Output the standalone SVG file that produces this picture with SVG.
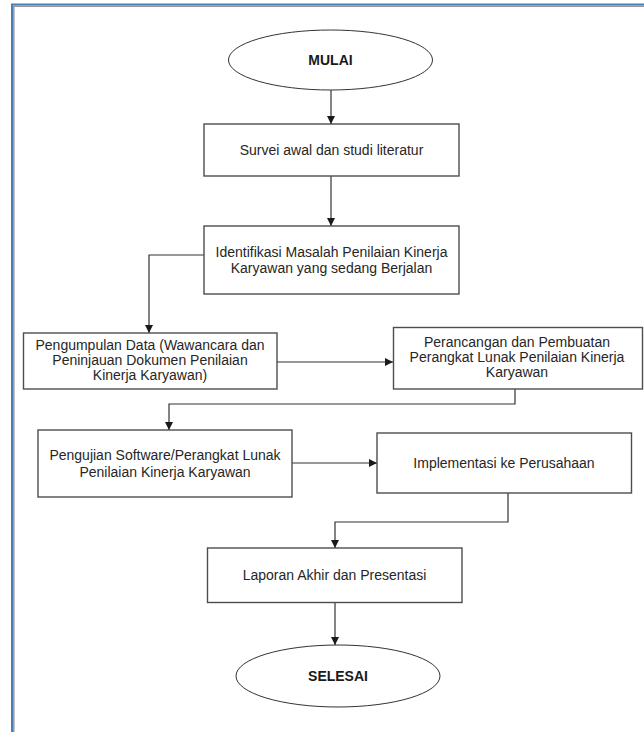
<svg xmlns="http://www.w3.org/2000/svg" width="644" height="732" viewBox="0 0 644 732">
  <style>
    .frame-blue { fill: none; stroke: #4a7ebb; stroke-width: 2; }
    .frame-gray { fill: none; stroke: #9a9a9a; stroke-width: 1.5; }
    .box { fill: #ffffff; stroke: #4d4d4d; stroke-width: 1.4; }
    .term { fill: #ffffff; stroke: #333333; stroke-width: 1; }
    .lbl { font-family: "Liberation Sans", Arial, sans-serif; font-size: 14px; fill: #262626; text-anchor: middle; }
    .lbl-b { font-family: "Liberation Sans", Arial, sans-serif; font-size: 14px; font-weight: bold; fill: #1a1a1a; text-anchor: middle; }
    .edge { fill: none; stroke: #333333; stroke-width: 1.2; }
  </style>
  <defs>
    <marker id="arrow" viewBox="0 0 10 10" refX="10" refY="5" markerWidth="8" markerHeight="8" markerUnits="userSpaceOnUse" orient="auto">
      <path d="M0,0 L10,5 L0,10 z" fill="#1a1a1a"/>
    </marker>
  </defs>

  <rect x="0" y="0" width="644" height="732" fill="#ffffff"/>

  <!-- page frame -->
  <g id="frame">
    <path class="frame-gray" d="M13.8,740 V6.3 H650"/>
    <path class="frame-blue" d="M12,740 V4.5 H650"/>
  </g>

  <!-- connectors -->
  <g id="connectors">
    <path class="edge" d="M331,90 V124" marker-end="url(#arrow)"/>
    <path class="edge" d="M331,176 V226" marker-end="url(#arrow)"/>
    <path class="edge" d="M204,255 H149 V333" marker-end="url(#arrow)"/>
    <path class="edge" d="M277,362 H393" marker-end="url(#arrow)"/>
    <path class="edge" d="M515,389 V404 H169 V430" marker-end="url(#arrow)"/>
    <path class="edge" d="M292,463 H377" marker-end="url(#arrow)"/>
    <path class="edge" d="M508,493 V522 H335 V548" marker-end="url(#arrow)"/>
    <path class="edge" d="M335,603 V645" marker-end="url(#arrow)"/>
  </g>

  <g id="mulai">
    <ellipse class="term" cx="330.5" cy="60" rx="102" ry="30"/>
    <text class="lbl-b" x="330.5" y="65">MULAI</text>
  </g>

  <g id="survei">
    <rect class="box" x="204" y="124" width="255" height="52"/>
    <text class="lbl" x="331.5" y="155">Survei awal dan studi literatur</text>
  </g>

  <g id="identifikasi">
    <rect class="box" x="204" y="226" width="255" height="68"/>
    <text class="lbl" x="331.5" y="256.5">Identifikasi Masalah Penilaian Kinerja</text>
    <text class="lbl" x="331.5" y="273">Karyawan yang sedang Berjalan</text>
  </g>

  <g id="pengumpulan">
    <rect class="box" x="23.5" y="333" width="253.5" height="56"/>
    <text class="lbl" x="150" y="350">Pengumpulan Data (Wawancara dan</text>
    <text class="lbl" x="150" y="365">Peninjauan Dokumen Penilaian</text>
    <text class="lbl" x="150" y="380">Kinerja Karyawan)</text>
  </g>

  <g id="perancangan">
    <rect class="box" x="393.5" y="327.5" width="249" height="61.5"/>
    <text class="lbl" x="517" y="346.5">Perancangan dan Pembuatan</text>
    <text class="lbl" x="517" y="361.5">Perangkat Lunak Penilaian Kinerja</text>
    <text class="lbl" x="517" y="376.5">Karyawan</text>
  </g>

  <g id="pengujian">
    <rect class="box" x="38" y="430" width="254" height="67"/>
    <text class="lbl" x="165" y="460">Pengujian Software/Perangkat Lunak</text>
    <text class="lbl" x="165" y="476.5">Penilaian Kinerja Karyawan</text>
  </g>

  <g id="implementasi">
    <rect class="box" x="377" y="433" width="254.5" height="60"/>
    <text class="lbl" x="504" y="468">Implementasi ke Perusahaan</text>
  </g>

  <g id="laporan">
    <rect class="box" x="207.5" y="548" width="254.5" height="54.5"/>
    <text class="lbl" x="334.5" y="580">Laporan Akhir dan Presentasi</text>
  </g>

  <g id="selesai">
    <ellipse class="term" cx="338" cy="676" rx="102" ry="31"/>
    <text class="lbl-b" x="338" y="681">SELESAI</text>
  </g>
</svg>
